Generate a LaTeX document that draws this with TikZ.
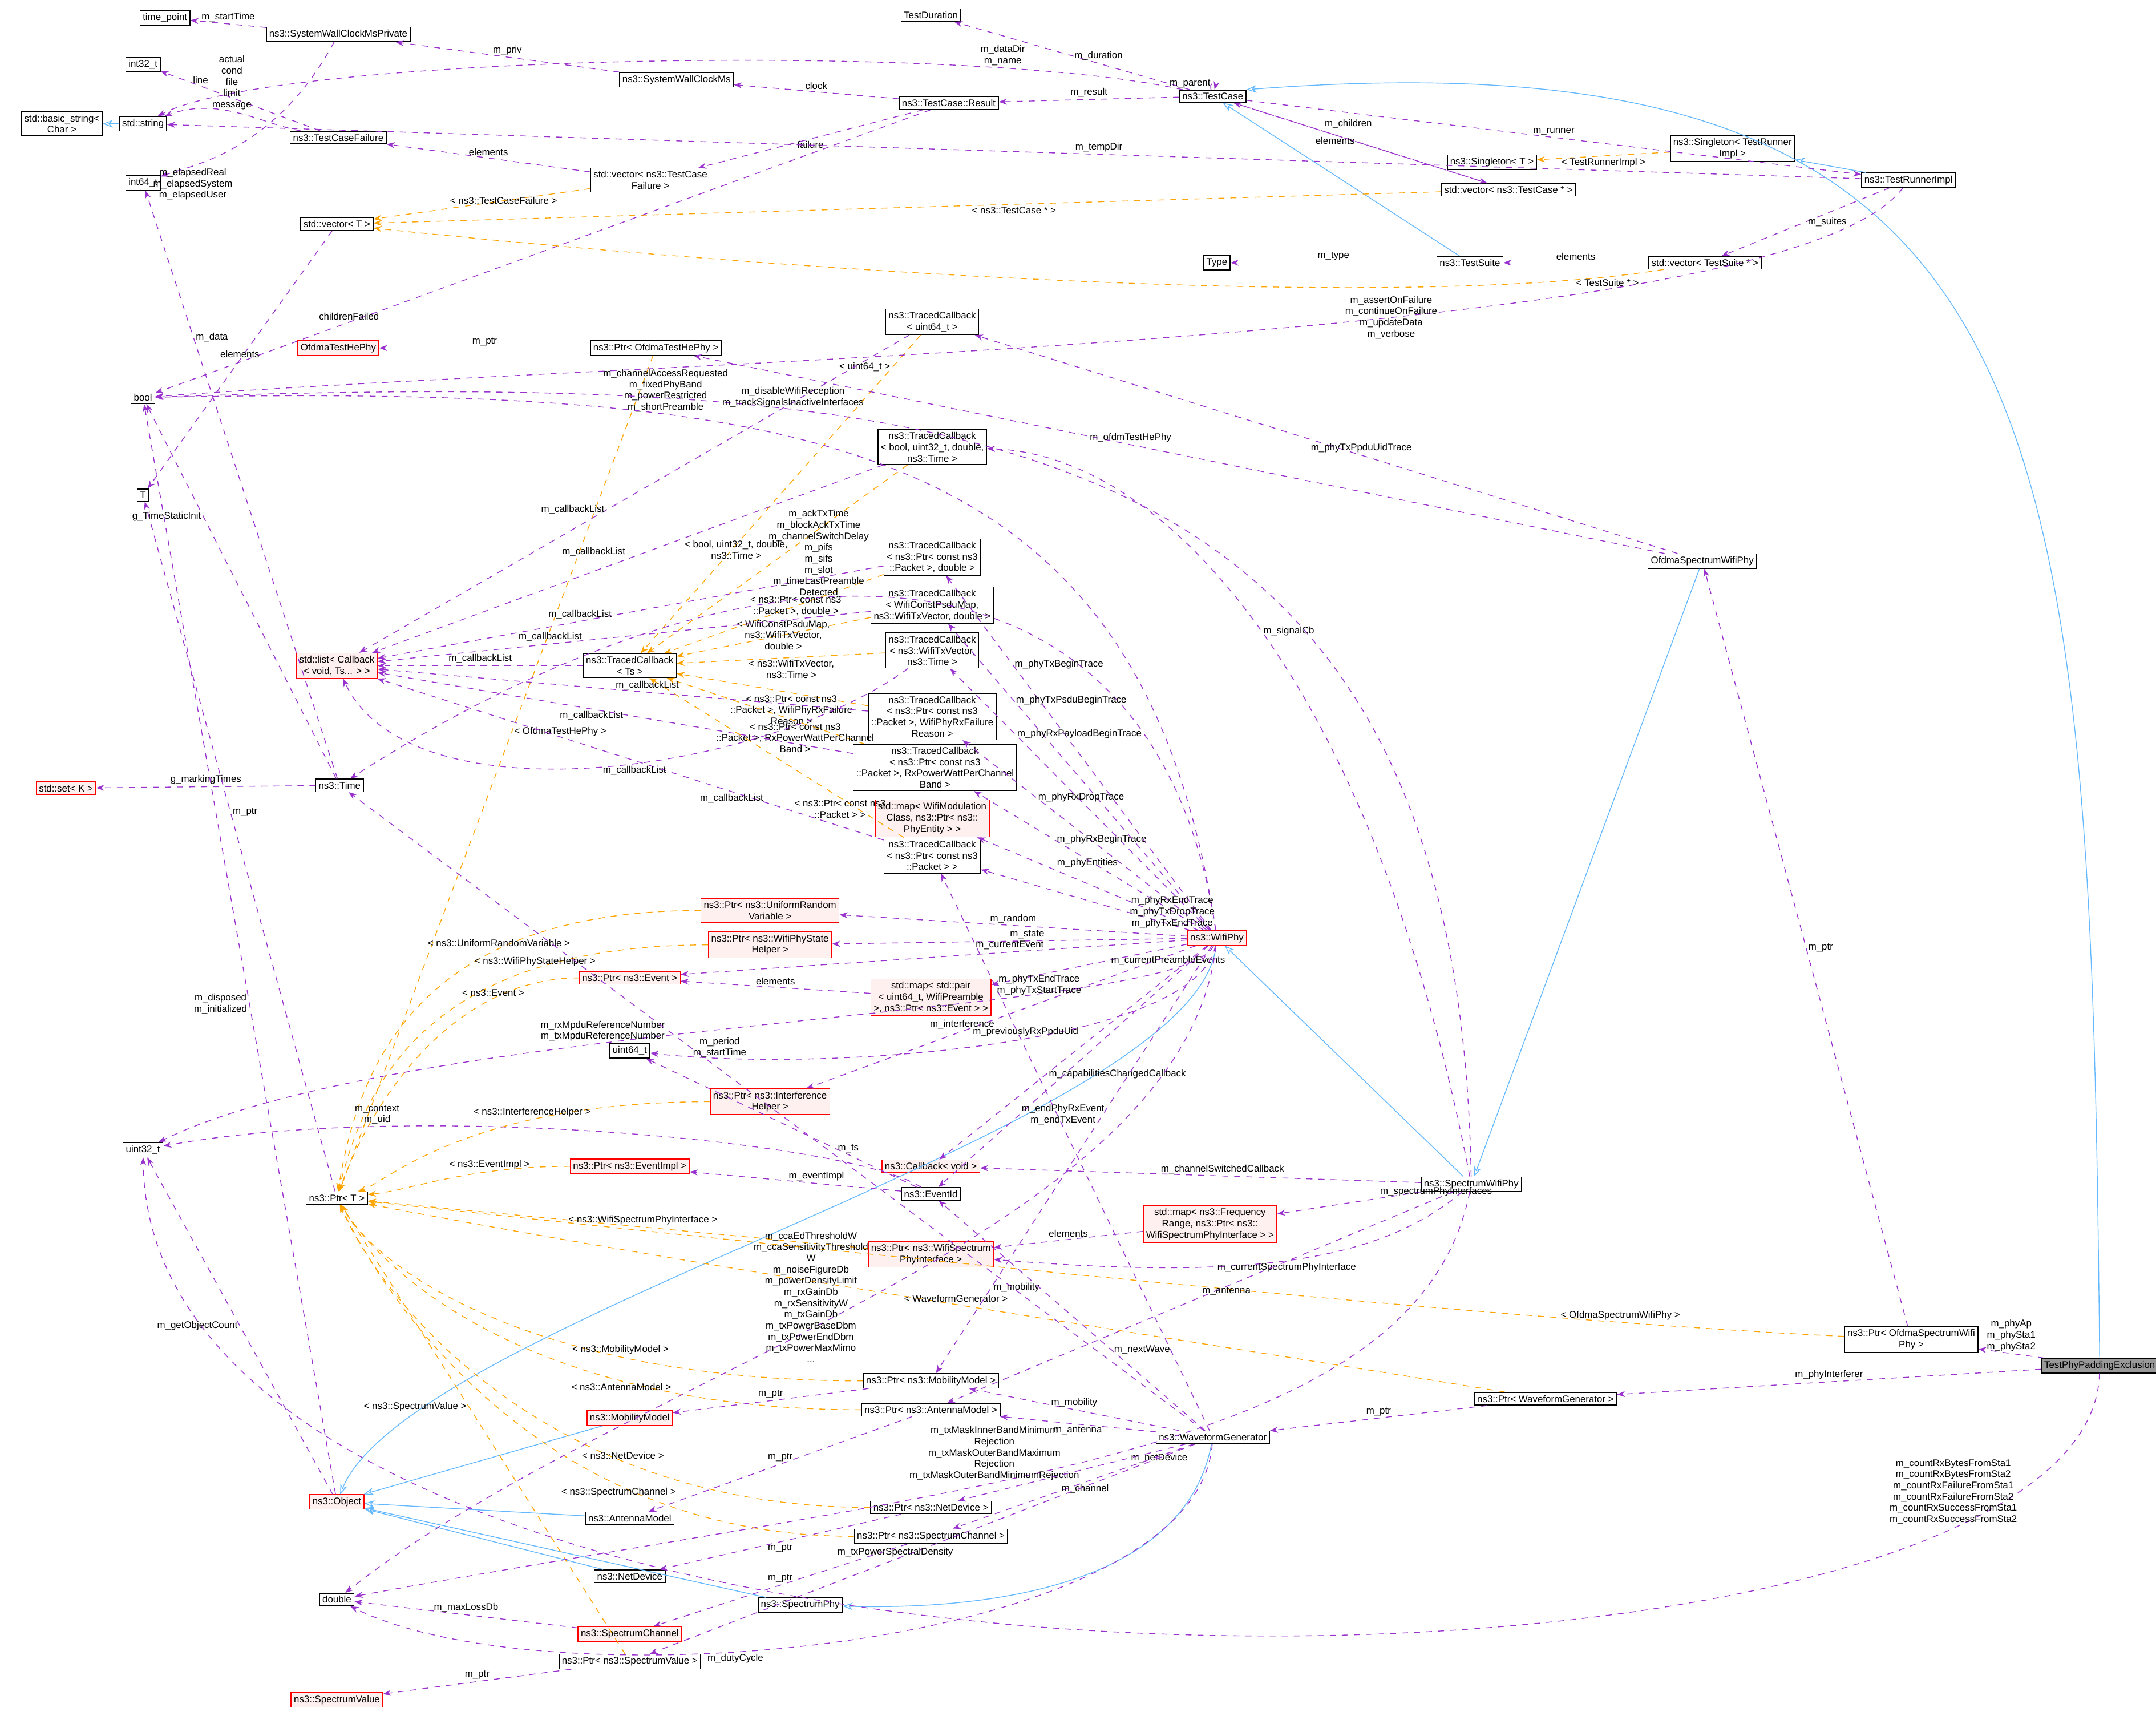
\documentclass[tikz,border=0pt]{standalone}
\usepackage{fontspec}
\setmainfont{Liberation Sans}
\usetikzlibrary{arrows.meta}
\definecolor{usecol}{HTML}{9A32CD}
\definecolor{tplcol}{HTML}{FFA500}
\definecolor{inhcol}{HTML}{63B8FF}
\tikzset{
  cls/.style={draw, fill=white, inner sep=1.4pt, align=center, font=\fontsize{4.8}{5.6}\selectfont},
  redcls/.style={cls, draw=red, fill=red!6},
  grycls/.style={cls, fill=black!40},
  use/.style={draw=usecol, dashed, -{Stealth[length=4pt]}},
  tmpl/.style={draw=tplcol, dashed, -{Stealth[length=4pt]}},
  inh/.style={draw=inhcol, -{Stealth[length=5pt, open]}},
  lbl/.style={align=center, font=\fontsize{4.8}{5.6}\selectfont, inner sep=1pt}
}
\begin{document}
\begin{tikzpicture}[x=0.0241cm, y=-0.0241cm]
    \useasboundingbox (0,0) rectangle (1568,1262);
    % left column
    \node[cls] (tpoint) at (120,13) {time\_point};
    \node[cls] (i32) at (104,47) {int32\_t};
    \node[cls] (bstr) at (45,90) {std::basic\_string\textless\\Char \textgreater};
    \node[cls] (str) at (104,90) {std::string};
    \node[cls] (i64) at (104,133) {int64\_t};
    \node[cls] (bool) at (104,289) {bool};
    \node[cls] (T) at (104,360) {T};
    \node[redcls] (setk) at (48,573) {std::set\textless\ K \textgreater};
    \node[cls] (u32) at (104,836) {uint32\_t};
    % second column
    \node[cls] (swcmp) at (246,25) {ns3::SystemWallClockMsPrivate};
    \node[cls] (tcf) at (246,100) {ns3::TestCaseFailure};
    \node[cls] (vecT) at (245,163) {std::vector\textless\ T \textgreater};
    \node[redcls] (hephy) at (246,253) {OfdmaTestHePhy};
    \node[redcls] (cblist) at (245,484) {std::list\textless\ Callback\\\textless\ void, Ts... \textgreater\ \textgreater};
    \node[cls] (time) at (247,571) {ns3::Time};
    \node[cls] (ptrT) at (245,871) {ns3::Ptr\textless\ T \textgreater};
    \node[redcls] (obj) at (245,1092) {ns3::Object};
    \node[cls] (dbl) at (245,1163) {double};
    \node[redcls] (sval) at (245,1236) {ns3::SpectrumValue};
    % third column
    \node[cls] (swcm) at (492,58) {ns3::SystemWallClockMs};
    \node[cls] (vecf) at (473,131) {std::vector\textless\ ns3::TestCase\\Failure \textgreater};
    \node[cls] (pHephy) at (477,253) {ns3::Ptr\textless\ OfdmaTestHePhy \textgreater};
    \node[cls] (tcts) at (458,484) {ns3::TracedCallback\\\textless\ Ts \textgreater};
    \node[redcls] (pEvent) at (458,711) {ns3::Ptr\textless\ ns3::Event \textgreater};
    \node[cls] (u64) at (458,764) {uint64\_t};
    \node[redcls] (pEimpl) at (458,848) {ns3::Ptr\textless\ ns3::EventImpl \textgreater};
    \node[redcls] (mob) at (458,1031) {ns3::MobilityModel};
    \node[cls] (ant) at (458,1104) {ns3::AntennaModel};
    \node[cls] (netdev) at (458,1146) {ns3::NetDevice};
    \node[redcls] (chan) at (458,1188) {ns3::SpectrumChannel};
    \node[cls] (pSval) at (458,1208) {ns3::Ptr\textless\ ns3::SpectrumValue \textgreater};
    \node[redcls] (pUrv) at (560,662) {ns3::Ptr\textless\ ns3::UniformRandom\\Variable \textgreater};
    \node[redcls] (pState) at (560,687) {ns3::Ptr\textless\ ns3::WifiPhyState\\Helper \textgreater};
    \node[redcls] (pIh) at (560,801) {ns3::Ptr\textless\ ns3::Interference\\Helper \textgreater};
    \node[cls] (sphy) at (582,1167) {ns3::SpectrumPhy};
    % fourth column
    \node[cls] (tdur) at (677,11) {TestDuration};
    \node[cls] (result) at (690,75) {ns3::TestCase::Result};
    \node[cls] (tcU64) at (678,234) {ns3::TracedCallback\\\textless\ uint64\_t \textgreater};
    \node[cls] (tcBool) at (678,325) {ns3::TracedCallback\\\textless\ bool, uint32\_t, double,\\ns3::Time \textgreater};
    \node[cls] (tcPktD) at (678,405) {ns3::TracedCallback\\\textless\ ns3::Ptr\textless\ const ns3\\::Packet \textgreater, double \textgreater};
    \node[cls] (tcPsdu) at (678,440) {ns3::TracedCallback\\\textless\ WifiConstPsduMap,\\ns3::WifiTxVector, double \textgreater};
    \node[cls] (tcTxv) at (678,473) {ns3::TracedCallback\\\textless\ ns3::WifiTxVector,\\ns3::Time \textgreater};
    \node[cls] (tcRsn) at (678,521) {ns3::TracedCallback\\\textless\ ns3::Ptr\textless\ const ns3\\::Packet \textgreater, WifiPhyRxFailure\\Reason \textgreater};
    \node[cls] (tcRxp) at (680,558) {ns3::TracedCallback\\\textless\ ns3::Ptr\textless\ const ns3\\::Packet \textgreater, RxPowerWattPerChannel\\Band \textgreater};
    \node[redcls] (mapMod) at (678,595) {std::map\textless\ WifiModulation\\Class, ns3::Ptr\textless\ ns3::\\PhyEntity \textgreater\ \textgreater};
    \node[cls] (tcPkt) at (678,622) {ns3::TracedCallback\\\textless\ ns3::Ptr\textless\ const ns3\\::Packet \textgreater\ \textgreater};
    \node[redcls] (mapPair) at (677,725) {std::map\textless\ std::pair\\\textless\ uint64\_t, WifiPreamble\\\textgreater, ns3::Ptr\textless\ ns3::Event \textgreater\ \textgreater};
    \node[redcls] (cbVoid) at (677,848) {ns3::Callback\textless\ void \textgreater};
    \node[cls] (evid) at (677,868) {ns3::EventId};
    \node[redcls] (pWspi) at (677,912) {ns3::Ptr\textless\ ns3::WifiSpectrum\\PhyInterface \textgreater};
    \node[cls] (pMob) at (677,1004) {ns3::Ptr\textless\ ns3::MobilityModel \textgreater};
    \node[cls] (pAnt) at (677,1025) {ns3::Ptr\textless\ ns3::AntennaModel \textgreater};
    \node[cls] (pNet) at (677,1096) {ns3::Ptr\textless\ ns3::NetDevice \textgreater};
    \node[cls] (pChan) at (677,1117) {ns3::Ptr\textless\ ns3::SpectrumChannel \textgreater};
    % fifth column
    \node[cls] (tc) at (882,70) {ns3::TestCase};
    \node[cls] (type) at (885,191) {Type};
    \node[redcls] (wifiphy) at (885,682) {ns3::WifiPhy};
    \node[redcls] (mapFreq) at (880,890) {std::map\textless\ ns3::Frequency\\Range, ns3::Ptr\textless\ ns3::\\WifiSpectrumPhyInterface \textgreater\ \textgreater};
    \node[cls] (wavegen) at (882,1045) {ns3::WaveformGenerator};
    % right columns
    \node[cls] (singT) at (1085,118) {ns3::Singleton\textless\ T \textgreater};
    \node[cls] (vecTc) at (1097,138) {std::vector\textless\ ns3::TestCase * \textgreater};
    \node[cls] (suite) at (1069,191) {ns3::TestSuite};
    \node[cls] (swphy) at (1070,861) {ns3::SpectrumWifiPhy};
    \node[cls] (pWg) at (1124,1017) {ns3::Ptr\textless\ WaveformGenerator \textgreater};
    \node[cls] (singR) at (1260,108) {ns3::Singleton\textless\ TestRunner\\Impl \textgreater};
    \node[cls] (vecSuite) at (1240,191) {std::vector\textless\ TestSuite * \textgreater};
    \node[cls] (ofdmaphy) at (1238,408) {OfdmaSpectrumWifiPhy};
    \node[cls] (runner) at (1388,131) {ns3::TestRunnerImpl};
    \node[cls] (pOfdma) at (1390,974) {ns3::Ptr\textless\ OfdmaSpectrumWifi\\Phy \textgreater};
    \node[grycls] (pad) at (1527,993) {TestPhyPaddingExclusion};

    % inheritance
    \draw[inh] (str) -- (bstr);
    \draw[inh] (pad.north) .. controls (1520,300) and (1500,20) .. (tc.north east);
    \draw[inh] (suite) -- (tc);
    \draw[inh] (runner) -- (singR);
    \draw[inh] (ofdmaphy) -- (swphy);
    \draw[inh] (swphy) -- (wifiphy);
    \draw[inh] (wifiphy) .. controls (870,820) and (300,960) .. (obj);
    \draw[inh] (mob) -- (obj);
    \draw[inh] (ant) -- (obj);
    \draw[inh] (netdev) -- (obj);
    \draw[inh] (sphy) -- (obj);
    \draw[inh] (wavegen) .. controls (860,1160) and (700,1170) .. (sphy);

    % templates
    \draw[tmpl] (vecf) -- node[lbl, pos=0.4] {\textless\ ns3::TestCaseFailure \textgreater} (vecT);
    \draw[tmpl] (vecTc) -- node[lbl, pos=0.4, below] {\textless\ ns3::TestCase * \textgreater} (vecT);
    \draw[tmpl] (vecSuite) .. controls (1000,230) and (500,190) .. node[lbl, pos=0.06, below] {\textless\ TestSuite * \textgreater} (vecT);
    \draw[tmpl] (singR) -- node[lbl, below] {\textless\ TestRunnerImpl \textgreater} (singT);
    \draw[tmpl] (tcU64) -- node[lbl, pos=0.1, left] {\textless\ uint64\_t \textgreater} (tcts);
    \draw[tmpl] (tcBool) -- node[lbl, pos=0.45, left] {\textless\ bool, uint32\_t, double,\\ns3::Time \textgreater} (tcts);
    \draw[tmpl] (tcPktD) -- node[lbl, pos=0.4] {\textless\ ns3::Ptr\textless\ const ns3\\::Packet \textgreater, double \textgreater} (tcts);
    \draw[tmpl] (tcPsdu) -- node[lbl, pos=0.45] {\textless\ WifiConstPsduMap,\\ns3::WifiTxVector,\\double \textgreater} (tcts);
    \draw[tmpl] (tcTxv) -- node[lbl, pos=0.45, below] {\textless\ ns3::WifiTxVector,\\ns3::Time \textgreater} (tcts);
    \draw[tmpl] (tcRsn) -- node[lbl, pos=0.4, below] {\textless\ ns3::Ptr\textless\ const ns3\\::Packet \textgreater, WifiPhyRxFailure\\Reason \textgreater} (tcts);
    \draw[tmpl] (tcRxp) -- node[lbl, pos=0.35, below] {\textless\ ns3::Ptr\textless\ const ns3\\::Packet \textgreater, RxPowerWattPerChannel\\Band \textgreater} (tcts);
    \draw[tmpl] (tcPkt) -- node[lbl, pos=0.25, below] {\textless\ ns3::Ptr\textless\ const ns3\\::Packet \textgreater\ \textgreater} (tcts);
    \draw[tmpl] (pHephy) -- node[lbl, pos=0.45, right] {\textless\ OfdmaTestHePhy \textgreater} (ptrT);
    \draw[tmpl] (pUrv.west) .. controls (300,662) and (260,780) .. node[lbl, pos=0.3, above] {\textless\ ns3::UniformRandomVariable \textgreater} (ptrT);
    \draw[tmpl] (pState.west) .. controls (310,687) and (265,790) .. node[lbl, pos=0.25, above] {\textless\ ns3::WifiPhyStateHelper \textgreater} (ptrT);
    \draw[tmpl] (pEvent.west) .. controls (330,711) and (270,800) .. node[lbl, pos=0.25, above] {\textless\ ns3::Event \textgreater} (ptrT);
    \draw[tmpl] (pIh.west) .. controls (340,801) and (280,860) .. node[lbl, pos=0.3, above] {\textless\ ns3::InterferenceHelper \textgreater} (ptrT);
    \draw[tmpl] (pEimpl.west) .. controls (340,848) and (300,865) .. node[lbl, pos=0.3, above] {\textless\ ns3::EventImpl \textgreater} (ptrT);
    \draw[tmpl] (pWspi) -- node[lbl, pos=0.45, above] {\textless\ ns3::WifiSpectrumPhyInterface \textgreater} (ptrT);
    \draw[tmpl] (pOfdma) .. controls (1100,960) and (700,920) .. node[lbl, pos=0.2, above] {\textless\ OfdmaSpectrumWifiPhy \textgreater} (ptrT);
    \draw[tmpl] (pWg) .. controls (900,980) and (500,920) .. node[lbl, pos=0.5, above] {\textless\ WaveformGenerator \textgreater} (ptrT);
    \draw[tmpl] (pMob.west) .. controls (400,1004) and (280,930) .. node[lbl, pos=0.3, above] {\textless\ ns3::MobilityModel \textgreater} (ptrT);
    \draw[tmpl] (pAnt.west) .. controls (400,1025) and (285,935) .. node[lbl, pos=0.3, below] {\textless\ ns3::AntennaModel \textgreater} (ptrT);
    \draw[tmpl] (pNet.west) .. controls (400,1096) and (280,950) .. node[lbl, pos=0.3, above] {\textless\ ns3::NetDevice \textgreater} (ptrT);
    \draw[tmpl] (pChan.west) .. controls (400,1117) and (285,955) .. node[lbl, pos=0.3, below] {\textless\ ns3::SpectrumChannel \textgreater} (ptrT);
    \draw[tmpl] (pSval) -- node[lbl, pos=0.55, left] {\textless\ ns3::SpectrumValue \textgreater} (ptrT);

    % members: test framework
    \draw[use] (tc) .. controls (700,30) and (200,40) .. node[lbl, pos=0.2, above] {m\_dataDir\\m\_name} (str);
    \draw[use] (tc) -- node[lbl, right, pos=0.5] {m\_duration} (tdur);
    \path (tc) edge[use, loop above, looseness=6] node[lbl, left] {m\_parent} (tc);
    \draw[use] (tc) -- node[lbl, above] {m\_result} (result);
    \draw[use] (tc) -- node[lbl, pos=0.35, above right] {m\_children} (vecTc);
    \draw[use] (tc) -- node[lbl, above] {m\_runner} (runner);
    \draw[use] (vecTc) -- node[lbl, pos=0.6, below] {elements} (tc);
    \draw[use] (result) -- node[lbl, above] {clock} (swcm);
    \draw[use] (result) -- node[lbl, below] {failure} (vecf);
    \draw[use] (result) -- node[lbl, pos=0.75, above] {childrenFailed} (bool);
    \draw[use] (swcm) -- node[lbl, above] {m\_priv} (swcmp);
    \draw[use] (swcmp) -- node[lbl, above] {m\_startTime} (tpoint);
    \draw[use] (swcmp) .. controls (200,110) and (140,120) .. node[lbl, pos=0.75, below] {m\_elapsedReal\\m\_elapsedSystem\\m\_elapsedUser} (i64);
    \draw[use] (tcf) -- node[lbl, above, pos=0.75] {line} (i32);
    \draw[use] (tcf) .. controls (190,90) and (160,70) .. node[lbl, pos=0.55, above] {actual\\cond\\file\\limit\\message} (str);
    \draw[use] (vecf) -- node[lbl, above] {elements} (tcf);
    \draw[use] (vecT) -- node[lbl, above] {elements} (T);
    \draw[use] (runner) -- node[lbl, above, pos=0.45] {m\_tempDir} (str);
    \draw[use] (runner) .. controls (1300,250) and (500,260) .. node[lbl, pos=0.4] {m\_assertOnFailure\\m\_continueOnFailure\\m\_updateData\\m\_verbose} (bool);
    \draw[use] (runner) -- node[lbl, right] {m\_suites} (vecSuite);
    \draw[use] (vecSuite) -- node[lbl, above] {elements} (suite);
    \draw[use] (suite) -- node[lbl, above] {m\_type} (type);

    % members: traced callbacks
    \draw[use] (tcU64) -- node[lbl, pos=0.55, left] {m\_callbackList} (cblist);
    \draw[use] (tcBool) -- node[lbl, pos=0.5, above left] {m\_callbackList} (cblist);
    \draw[use] (tcPktD) -- node[lbl, pos=0.6, above] {m\_callbackList} (cblist);
    \draw[use] (tcPsdu) -- node[lbl, pos=0.65, above] {m\_callbackList} (cblist);
    \draw[use] (tcts) -- node[lbl, above] {m\_callbackList} (cblist);
    \draw[use] (tcRsn) -- node[lbl, pos=0.45, above] {m\_callbackList} (cblist);
    \draw[use] (tcRxp) -- node[lbl, pos=0.55, below] {m\_callbackList} (cblist);
    \draw[use] (tcPkt) -- node[lbl, pos=0.3, below] {m\_callbackList} (cblist);
    \draw[use] (tcTxv) .. controls (560,560) and (300,600) .. node[lbl, pos=0.45, below] {m\_callbackList} (cblist);
    \draw[use] (pHephy) -- node[lbl, above] {m\_ptr} (hephy);
    \draw[use] (ofdmaphy) -- node[lbl, above, pos=0.45] {m\_phyTxPpduUidTrace} (tcU64);
    \draw[use] (ofdmaphy) -- node[lbl, above, pos=0.55] {m\_ofdmTestHePhy} (pHephy);
    \draw[use] (time) -- node[lbl, pos=0.75, right] {m\_data} (i64);
    \draw[use] (time) -- node[lbl, pos=0.7, left] {g\_TimeStaticInit} (bool);
    \draw[use] (time) -- node[lbl, above] {g\_markingTimes} (setk);
    \draw[use] (ptrT) -- node[lbl, pos=0.55, right] {m\_ptr} (T);
    \draw[use] (obj) -- node[lbl, pos=0.45, left] {m\_disposed\\m\_initialized} (bool);
    \draw[use] (obj) -- node[lbl, pos=0.5, left] {m\_getObjectCount} (u32);

    % members: wifi phy
    \draw[use] (wifiphy) .. controls (830,320) and (600,280) .. node[lbl, pos=0.7, above] {m\_channelAccessRequested\\m\_fixedPhyBand\\m\_powerRestricted\\m\_shortPreamble} (bool);
    \draw[use] (wifiphy) .. controls (840,380) and (560,370) .. node[lbl, pos=0.6, above] {m\_ackTxTime\\m\_blockAckTxTime\\m\_channelSwitchDelay\\m\_pifs\\m\_sifs\\m\_slot\\m\_timeLastPreamble\\Detected} (time);
    \draw[use] (wifiphy) -- node[lbl, right, pos=0.75] {m\_phyTxBeginTrace} (tcPktD);
    \draw[use] (wifiphy) -- node[lbl, right, pos=0.75] {m\_phyTxPsduBeginTrace} (tcPsdu);
    \draw[use] (wifiphy) -- node[lbl, right, pos=0.75] {m\_phyRxPayloadBeginTrace} (tcTxv);
    \draw[use] (wifiphy) -- node[lbl, right, pos=0.7] {m\_phyRxDropTrace} (tcRsn);
    \draw[use] (wifiphy) -- node[lbl, right, pos=0.65] {m\_phyRxBeginTrace} (tcRxp);
    \draw[use] (wifiphy) -- node[lbl, above right, pos=0.65] {m\_phyEntities} (mapMod);
    \draw[use] (wifiphy) -- node[lbl, right, pos=0.3] {m\_phyRxEndTrace\\m\_phyTxDropTrace\\m\_phyTxEndTrace} (tcPkt);
    \draw[use] (wifiphy) -- node[lbl, above] {m\_random} (pUrv);
    \draw[use] (wifiphy) -- node[lbl, above, pos=0.45] {m\_state} (pState);
    \draw[use] (wifiphy) -- node[lbl, above, pos=0.35] {m\_currentEvent} (pEvent);
    \draw[use] (wifiphy) -- node[lbl, right, pos=0.4] {m\_currentPreambleEvents} (mapPair);
    \draw[use] (mapPair) -- node[lbl, above] {elements} (pEvent);
    \draw[use] (wifiphy) .. controls (870,760) and (600,780) .. node[lbl, pos=0.45, above] {m\_previouslyRxPpduUid} (u64);
    \draw[use] (wifiphy) .. controls (860,740) and (300,740) .. node[lbl, pos=0.62, above] {m\_rxMpduReferenceNumber\\m\_txMpduReferenceNumber} (u32);
    \draw[use] (wifiphy) -- node[lbl, above, pos=0.6] {m\_interference} (pIh);
    \draw[use] (wifiphy) -- node[lbl, pos=0.6, right] {m\_capabilitiesChangedCallback} (cbVoid);
    \draw[use] (wifiphy) -- node[lbl, pos=0.7, right] {m\_endPhyRxEvent\\m\_endTxEvent} (evid);
    \draw[use] (wifiphy) .. controls (860,900) and (450,1000) .. node[lbl, pos=0.5, left] {m\_ccaEdThresholdW\\m\_ccaSensitivityThreshold\\W\\m\_noiseFigureDb\\m\_powerDensityLimit\\m\_rxGainDb\\m\_rxSensitivityW\\m\_txGainDb\\m\_txPowerBaseDbm\\m\_txPowerEndDbm\\m\_txPowerMaxMimo\\...} (dbl);
    \draw[use] (wifiphy) -- node[lbl, pos=0.8, right] {m\_mobility} (pMob);
    \draw[use] (evid) -- node[lbl, above, pos=0.4] {m\_eventImpl} (pEimpl);
    \draw[use] (evid) -- node[lbl, right, pos=0.3] {m\_ts} (u64);
    \draw[use] (evid) .. controls (620,830) and (300,800) .. node[lbl, pos=0.75, above] {m\_context\\m\_uid} (u32);

    % members: spectrum wifi phy
    \draw[use] (swphy) .. controls (1060,300) and (700,270) .. node[lbl, pos=0.7, above] {m\_disableWifiReception\\m\_trackSignalsInactiveInterfaces} (bool);
    \draw[use] (swphy) .. controls (1000,500) and (850,330) .. node[lbl, pos=0.5, right] {m\_signalCb} (tcBool);
    \draw[use] (swphy) -- node[lbl, above, pos=0.45] {m\_channelSwitchedCallback} (cbVoid);
    \draw[use] (swphy) -- node[lbl, above right, pos=0.3] {m\_spectrumPhyInterfaces} (mapFreq);
    \draw[use] (mapFreq) -- node[lbl, above] {elements} (pWspi);
    \draw[use] (swphy) .. controls (1000,920) and (900,930) .. node[lbl, pos=0.5, below] {m\_currentSpectrumPhyInterface} (pWspi);
    \draw[use] (swphy) -- node[lbl, pos=0.5, above right] {m\_antenna} (pAnt);
    \draw[use] (swphy) .. controls (1030,1060) and (700,1080) .. node[lbl, pos=0.6, above] {m\_txMaskInnerBandMinimum\\Rejection\\m\_txMaskOuterBandMaximum\\Rejection\\m\_txMaskOuterBandMinimumRejection} (dbl);

    % members: test, waveform generator
    \draw[use] (pOfdma) -- node[lbl, right, pos=0.5] {m\_ptr} (ofdmaphy);
    \draw[use] (pad) -- node[lbl, above, pos=0.5] {m\_phyAp\\m\_phySta1\\m\_phySta2} (pOfdma);
    \draw[use] (pad) -- node[lbl, above] {m\_phyInterferer} (pWg);
    \draw[use] (pad) .. controls (1520,1270) and (110,1280) .. node[lbl, pos=0.12, left] {m\_countRxBytesFromSta1\\m\_countRxBytesFromSta2\\m\_countRxFailureFromSta1\\m\_countRxFailureFromSta2\\m\_countRxSuccessFromSta1\\m\_countRxSuccessFromSta2} (u32);
    \draw[use] (pWg) -- node[lbl, above] {m\_ptr} (wavegen);
    \draw[use] (wavegen) -- node[lbl, pos=0.6, right] {m\_period\\m\_startTime} (time);
    \draw[use] (wavegen) -- node[lbl, pos=0.35, right] {m\_nextWave} (evid);
    \draw[use] (wavegen) -- node[lbl, pos=0.8, right] {m\_phyTxEndTrace\\m\_phyTxStartTrace} (tcPkt);
    \draw[use] (wavegen) -- node[lbl, above] {m\_mobility} (pMob);
    \draw[use] (wavegen) -- node[lbl, below] {m\_antenna} (pAnt);
    \draw[use] (wavegen) -- node[lbl, pos=0.25, right] {m\_netDevice} (pNet);
    \draw[use] (wavegen) -- node[lbl, pos=0.45, below] {m\_channel} (pChan);
    \draw[use] (wavegen) -- node[lbl, pos=0.55, above] {m\_txPowerSpectralDensity} (pSval);
    \draw[use] (wavegen) .. controls (870,1200) and (400,1240) .. node[lbl, pos=0.6, below] {m\_dutyCycle} (dbl);
    \draw[use] (pMob) -- node[lbl, above] {m\_ptr} (mob);
    \draw[use] (pAnt) -- node[lbl, above] {m\_ptr} (ant);
    \draw[use] (pNet) -- node[lbl, below] {m\_ptr} (netdev);
    \draw[use] (pChan) -- node[lbl, above] {m\_ptr} (chan);
    \draw[use] (chan) -- node[lbl, above] {m\_maxLossDb} (dbl);
    \draw[use] (pSval) -- node[lbl, above] {m\_ptr} (sval);
\end{tikzpicture}
\end{document}
